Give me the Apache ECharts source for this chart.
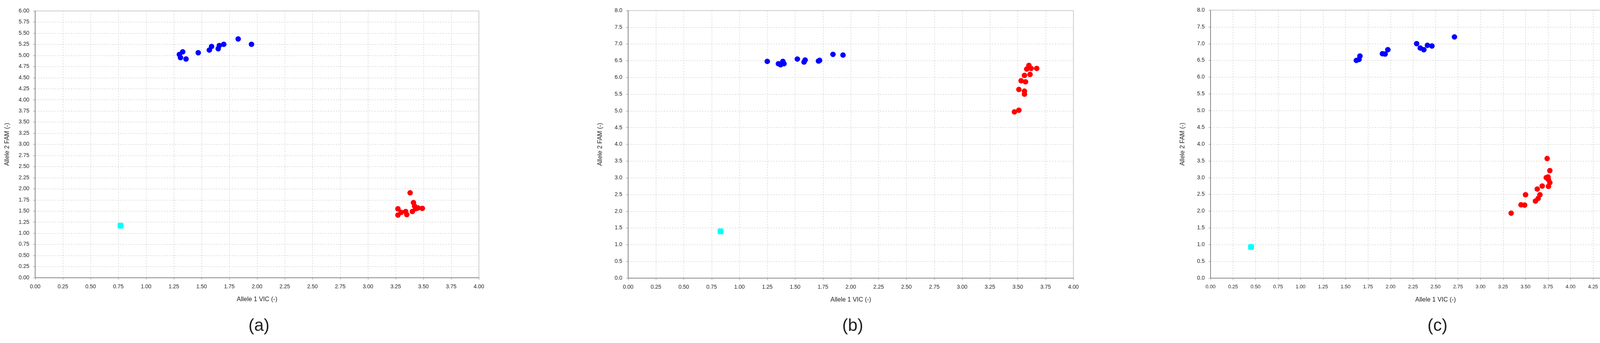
<!DOCTYPE html>
<html>
<head>
<meta charset="utf-8">
<script src="https://cdn.jsdelivr.net/npm/echarts@6/dist/echarts.min.js"></script>
<style>
  html, body { margin: 0; padding: 0; background: #fff; }
  #main { width: 4287px; height: 878px; }
</style>
</head>
<body>
<div id="main"></div>
<script>
// panel (a)
const aBlue = [[1.30,5.02],[1.31,4.95],[1.33,5.08],[1.36,4.92],[1.47,5.06],[1.57,5.12],[1.59,5.20],[1.65,5.15],[1.66,5.22],[1.70,5.25],[1.83,5.37],[1.95,5.25]];
const aRed = [[3.38,1.91],[3.41,1.69],[3.27,1.55],[3.27,1.41],[3.30,1.47],[3.34,1.49],[3.35,1.42],[3.40,1.49],[3.42,1.61],[3.45,1.57],[3.49,1.56],[3.43,1.55]];
const aCyan = [[0.77,1.17]];
// panel (b)
const bBlue = [[1.25,6.48],[1.35,6.41],[1.37,6.38],[1.39,6.48],[1.40,6.41],[1.52,6.55],[1.58,6.46],[1.59,6.52],[1.71,6.49],[1.72,6.51],[1.84,6.69],[1.93,6.67]];
const bRed = [[3.60,6.36],[3.58,6.25],[3.62,6.27],[3.67,6.27],[3.61,6.09],[3.56,6.06],[3.53,5.90],[3.57,5.87],[3.51,5.64],[3.56,5.59],[3.56,5.50],[3.51,5.02],[3.47,4.97]];
const bCyan = [[0.83,1.40]];
// panel (c)
const cBlue = [[1.62,6.50],[1.65,6.53],[1.66,6.63],[1.91,6.70],[1.94,6.69],[1.97,6.82],[2.29,7.00],[2.33,6.87],[2.37,6.82],[2.41,6.95],[2.46,6.93],[2.71,7.20]];
const cRed = [[3.74,3.57],[3.77,3.21],[3.75,3.02],[3.73,3.00],[3.755,2.94],[3.77,2.85],[3.755,2.74],[3.685,2.75],[3.63,2.66],[3.66,2.49],[3.64,2.38],[3.61,2.30],[3.50,2.49],[3.45,2.19],[3.49,2.18],[3.34,1.94]];
const cCyan = [[0.45,0.93]];

const panelLabels = ['(a)', '(b)', '(c)'];
const xMax = [4, 4, 5];
const yMax = [6, 8, 8];
const yStep = [0.25, 0.5, 0.5];
const yDigits = [2, 1, 1];
const xFontSize = [14, 14, 13];

const grids = [
  {left: 90, width: 1136, top: 28, height: 683},
  {left: 1608, width: 1140, top: 27, height: 685},
  {left: 3099, width: 1152, top: 26, height: 686}
];

const chart = echarts.init(document.getElementById('main'));
const tickFont = {fontFamily: 'Liberation Sans', fontSize: 14, color: '#222'};
const dashed = {show: true, lineStyle: {color: '#ccc', type: [4, 3]}};

const xAxes = [], yAxes = [], series = [], titles = [];
const sets = [[aBlue, aRed, aCyan], [bBlue, bRed, bCyan], [cBlue, cRed, cCyan]];

grids.forEach((g, i) => {
  g.show = true;
  g.borderColor = '#999';
  g.borderWidth = 1;
  xAxes.push({
    type: 'value', gridIndex: i, min: 0, max: xMax[i], interval: 0.25, offset: 8,
    name: 'Allele 1 VIC (-)', nameLocation: 'middle', nameGap: 40,
    nameTextStyle: {fontFamily: 'Liberation Sans', fontSize: 16, color: '#222'},
    axisLine: {lineStyle: {color: '#888', width: 2}},
    axisTick: {length: 5, lineStyle: {color: '#888'}},
    axisLabel: Object.assign({}, tickFont, {
      fontSize: xFontSize[i], formatter: v => v.toFixed(2),
      hideOverlap: false, showMaxLabel: true, showMinLabel: true, interval: 0
    }),
    splitLine: dashed
  });
  yAxes.push({
    type: 'value', gridIndex: i, min: 0, max: yMax[i], interval: yStep[i], offset: 7,
    name: 'Allele 2 FAM (-)', nameLocation: 'middle', nameGap: 56,
    nameTextStyle: {fontFamily: 'Liberation Sans', fontSize: 16, color: '#222'},
    axisLine: {show: true, lineStyle: {color: '#888', width: 2}},
    axisTick: {show: true, length: 5, lineStyle: {color: '#888'}},
    axisLabel: Object.assign({formatter: v => v.toFixed(yDigits[i]), showMaxLabel: true}, tickFont),
    splitLine: dashed
  });
  const [blue, red, cyan] = sets[i];
  series.push({type: 'scatter', xAxisIndex: i, yAxisIndex: i, data: blue, symbolSize: 14, itemStyle: {color: '#0000ff', opacity: 1}});
  series.push({type: 'scatter', xAxisIndex: i, yAxisIndex: i, data: red, symbolSize: 14, itemStyle: {color: '#ff0000', opacity: 1}});
  series.push({type: 'scatter', xAxisIndex: i, yAxisIndex: i, data: cyan, symbol: 'roundRect', symbolSize: 15, itemStyle: {color: '#00ffff', opacity: 1}});
  titles.push({
    text: panelLabels[i], left: g.left + g.width / 2, top: 808, textAlign: 'center',
    textStyle: {fontFamily: 'Liberation Sans', fontSize: 44, fontWeight: 'normal', color: '#222'}
  });
});

chart.setOption({
  animation: false,
  title: titles,
  grid: grids,
  xAxis: xAxes,
  yAxis: yAxes,
  series: series
});
</script>
</body>
</html>
